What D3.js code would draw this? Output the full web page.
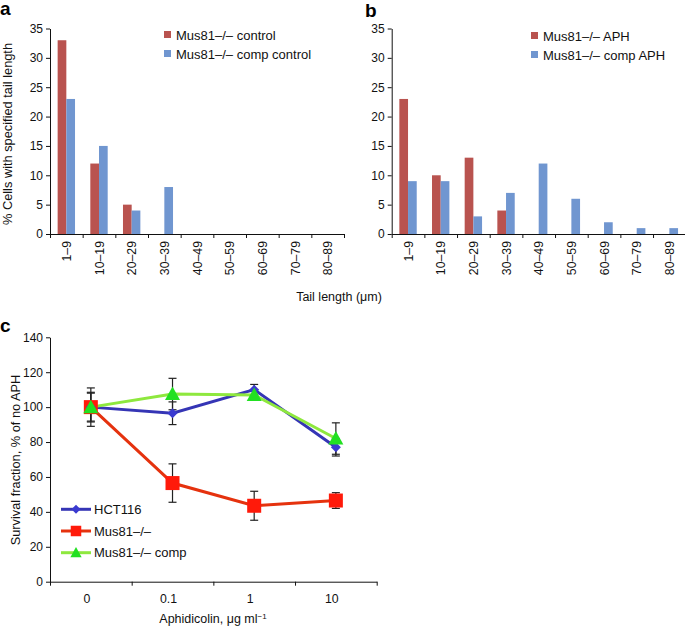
<!DOCTYPE html>
<html><head><meta charset="utf-8">
<script src="https://cdn.jsdelivr.net/npm/d3@7"></script>
<style>
html,body{margin:0;padding:0;background:#fff;}
svg{display:block;font-family:"Liberation Sans",Arial,sans-serif;}
</style></head>
<body>
<script>
// ---------- data ----------
const categories = ["1–9","10–19","20–29","30–39","40–49","50–59","60–69","70–79","80–89"];
const controlMus81 = [33,12,5,0,0,0,0,0,0];
const controlComp  = [23,15,4,8,0,0,0,0,0];
const aphMus81     = [23,10,13,4,0,0,0,0,0];
const aphComp      = [9,9,3,7,12,6,2,1,1];
const barTicks     = [0,5,10,15,20,25,30,35];
const legendA      = ["Mus81–/– control","Mus81–/– comp control"];
const legendB      = ["Mus81–/– APH","Mus81–/– comp APH"];

const doses    = ["0","0.1","1","10"];
const hct116   = [100,96.5,110,77];
const hct116Err= [8.5,6.5,3,5];
const mus81    = [100,56.5,43.5,46.5];
const mus81Err = [11,11,8.3,4.5];
const comp     = [100,107.5,107,82];
const compErr  = [8,9,2,9];
const survTicks= [0,20,40,60,80,100,120,140];
const lineNames= ["HCT116","Mus81–/–","Mus81–/–  comp"];

const RED="#b9534f", BLUE="#7096d0";

const W=685,H=629;
const svg=d3.select("body").append("svg").attr("width",W).attr("height",H);

function barPanel(x0,x1,yTop,yBot,s1,s2,legend,legX,legY){
  const g=svg.append("g");
  const y=d3.scaleLinear().domain([0,35]).range([yBot,yTop]);
  const xb=d3.scaleBand().domain(categories).range([x0,x1]).paddingInner(0).paddingOuter(0);
  const xi=d3.scaleLinear().domain([0,categories.length]).range([x0,x1]);
  const bw=xb.bandwidth()*0.266;
  const pad=(xb.bandwidth()-2*bw)/2;
  g.selectAll(".r").data(s1).join("rect")
    .attr("x",(d,i)=>xb(categories[i])+pad).attr("width",bw)
    .attr("y",d=>y(d)).attr("height",d=>yBot-y(d)).attr("fill",RED);
  g.selectAll(".b").data(s2).join("rect")
    .attr("x",(d,i)=>xb(categories[i])+pad+bw).attr("width",bw)
    .attr("y",d=>y(d)).attr("height",d=>yBot-y(d)).attr("fill",BLUE);
  const ya=g.append("g").attr("transform",`translate(${x0},0)`)
    .call(d3.axisLeft(y).tickValues(barTicks).tickSize(4).tickSizeOuter(0).tickPadding(3));
  ya.selectAll("text").attr("font-size",12).attr("fill","#111").attr("font-family","Liberation Sans, Arial");
  const xa=g.append("g").attr("transform",`translate(0,${yBot})`)
    .call(d3.axisBottom(xi).tickValues(d3.range(0,categories.length+1)).tickSize(4).tickSizeOuter(0).tickFormat(""));
  [ya,xa].forEach(a=>{a.select(".domain").attr("stroke","#111");a.selectAll("line").attr("stroke","#111");});
  g.selectAll(".xl").data(categories).join("text")
    .attr("transform",d=>`translate(${xb(d)+xb.bandwidth()/2+4.5},${yBot+7}) rotate(-90)`)
    .attr("text-anchor","end").attr("font-size",12.3).attr("fill","#111").text(d=>d);
  legend.forEach((t,i)=>{
    g.append("rect").attr("x",legX).attr("y",legY+i*19-4).attr("width",7).attr("height",7).attr("fill",i?BLUE:RED);
    g.append("text").attr("x",legX+12).attr("y",legY+i*19+4.5).attr("font-size",13).attr("fill","#111").text(t);
  });
}
barPanel(50,344,28.5,234,controlMus81,controlComp,legendA,164,35);
barPanel(391.7,685.7,28.5,234,aphMus81,aphComp,legendB,531,36);

// titles a/b
svg.append("text").attr("transform","translate(12,134) rotate(-90)").attr("text-anchor","middle")
  .attr("font-size",12.8).attr("fill","#111").text("% Cells with specified tail length");
svg.append("text").attr("x",339).attr("y",301).attr("text-anchor","middle")
  .attr("font-size",12.5).attr("fill","#111").text("Tail length (μm)");
svg.append("text").attr("x",0).attr("y",15).attr("font-size",19).attr("font-weight","bold").text("a");
svg.append("text").attr("x",365).attr("y",17).attr("font-size",19).attr("font-weight","bold").text("b");
svg.append("text").attr("x",0).attr("y",332).attr("font-size",19).attr("font-weight","bold").text("c");

// ---------- panel c ----------
const cx0=50,cx1=376.7,cyTop=337.3,cyBot=581.7;
const yc=d3.scaleLinear().domain([0,140]).range([cyBot,cyTop]);
const xc=d3.scalePoint().domain(doses).range([cx0,cx1]).padding(0.5);
const xci=d3.scaleLinear().domain([0,doses.length]).range([cx0,cx1]);
const gc=svg.append("g");
const yca=gc.append("g").attr("transform",`translate(${cx0},0)`)
  .call(d3.axisLeft(yc).tickValues(survTicks).tickSize(4).tickSizeOuter(0).tickPadding(3));
yca.selectAll("text").attr("font-size",12).attr("fill","#111").attr("font-family","Liberation Sans, Arial");
const xca=gc.append("g").attr("transform",`translate(0,${cyBot})`)
  .call(d3.axisBottom(xci).tickValues(d3.range(0,doses.length+1)).tickSize(4).tickSizeOuter(0).tickFormat(""));
[yca,xca].forEach(a=>{a.select(".domain").attr("stroke","#111");a.selectAll("line").attr("stroke","#111");});
gc.selectAll(".xl").data(doses).join("text").attr("x",d=>xc(d)-4).attr("y",cyBot+21)
  .attr("text-anchor","middle").attr("font-size",12.3).attr("fill","#111").text(d=>d);

const series=[
 {name:lineNames[0],v:hct116,e:hct116Err,color:"#3535b5",marker:"diamond"},
 {name:lineNames[1],v:mus81,e:mus81Err,color:"#e5320e",marker:"square"},
 {name:lineNames[2],v:comp,e:compErr,color:"#8ee83e",marker:"triangle"}
];
const markerFill={diamond:"#3a3ad0",square:"#ff1a0a",triangle:"#22e022"};
function drawMarker(sel,m,x,y,scale){
  scale=scale||1;
  if(m==="square"){const s=14*scale;sel.append("rect").attr("x",x-s/2).attr("y",y-s/2).attr("width",s).attr("height",s).attr("fill",markerFill.square);}
  else if(m==="diamond"){const s=5*scale;sel.append("path").attr("d",`M${x},${y-s}L${x+s},${y}L${x},${y+s}L${x-s},${y}Z`).attr("fill",markerFill.diamond);}
  else {const s=7.5*scale;sel.append("path").attr("d",`M${x},${y-s}L${x+s},${y+s*0.8}L${x-s},${y+s*0.8}Z`).attr("fill",markerFill.triangle);}
}
const line=d3.line().x((d,i)=>xc(doses[i])).y(d=>yc(d));
// error bars
series.forEach(s=>{
  s.v.forEach((v,i)=>{
    const x=xc(doses[i]);
    gc.append("line").attr("x1",x).attr("x2",x).attr("y1",yc(v+s.e[i])).attr("y2",yc(v-s.e[i])).attr("stroke","#222").attr("stroke-width",1.2);
    [v+s.e[i],v-s.e[i]].forEach(t=>gc.append("line").attr("x1",x-4).attr("x2",x+4).attr("y1",yc(t)).attr("y2",yc(t)).attr("stroke","#222").attr("stroke-width",1.2));
  });
});
[series[1],series[0],series[2]].forEach(s=>{
  gc.append("path").datum(s.v).attr("d",line).attr("fill","none").attr("stroke",s.color).attr("stroke-width",3);
});
[series[1],series[0],series[2]].forEach(s=>{
  s.v.forEach((v,i)=>drawMarker(gc,s.marker,xc(doses[i]),yc(v)));
});
// legend c
series.forEach((s,i)=>{
  const ly=509.3+i*21.7;
  gc.append("line").attr("x1",61).attr("x2",91).attr("y1",ly).attr("y2",ly).attr("stroke",s.color).attr("stroke-width",3);
  drawMarker(gc,s.marker,76,ly,s.marker==="square"?0.75:(s.marker==="triangle"?0.75:0.9));
  gc.append("text").attr("x",94).attr("y",ly+4.5).attr("font-size",13).attr("fill","#111").text(s.name);
});
svg.append("text").attr("transform",`translate(20,460) rotate(-90)`).attr("text-anchor","middle")
  .attr("font-size",12.8).attr("fill","#111").text("Survival fraction, % of no APH");
const t=svg.append("text").attr("x",213).attr("y",623).attr("text-anchor","middle").attr("font-size",12.5).attr("fill","#111");
t.append("tspan").text("Aphidicolin, μg ml");
t.append("tspan").attr("dy",-4).attr("font-size",8).text("−1");
</script>
</body></html>
